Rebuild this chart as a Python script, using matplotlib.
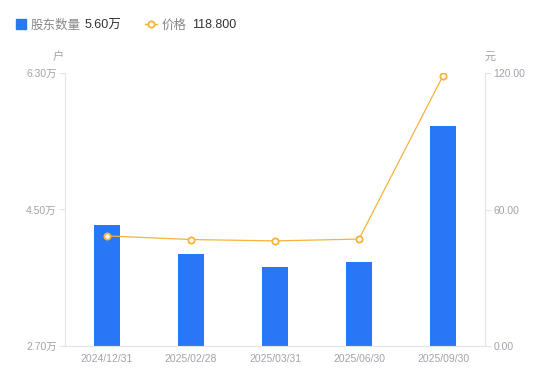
import matplotlib.pyplot as plt
from matplotlib.lines import Line2D
from matplotlib.patches import Rectangle
import numpy as np

plt.rcParams['font.family'] = ['Liberation Sans', 'Noto Sans CJK SC', 'DejaVu Sans']

dates = ['2024/12/31', '2025/02/28', '2025/03/31', '2025/06/30', '2025/09/30']
holders = [4.30, 3.91, 3.74, 3.81, 5.60]   # 万户
price = [48.4, 46.8, 46.2, 47.0, 118.8]    # 元
left_ticks = [2.70, 4.50, 6.30]
right_ticks = [0.0, 60.0, 120.0]

blue = '#2878f5'
orange = '#f7b23b'
axis_gray = '#e3e3e8'
label_gray = '#a1a3ad'

fig = plt.figure(figsize=(5.5, 3.81), dpi=100)
ax = fig.add_axes([65 / 550, 35 / 381, 420 / 550, 273 / 381])
ax2 = ax.twinx()

x = np.arange(len(dates))
ax.bar(x, holders, width=0.3, color=blue, bottom=0, zorder=2)
ax.set_xlim(-0.5, len(dates) - 0.5)
ax.set_ylim(left_ticks[0], left_ticks[-1])
ax.set_yticks(left_ticks)
ax.set_yticklabels(['%.2f万' % v for v in left_ticks])
ax.set_xticks(x)
ax.set_xticklabels(dates)

ax2.plot(x, price, color=orange, lw=0.9, marker='o', ms=4.5,
         mfc='white', mec=orange, mew=1.3, zorder=3)
ax2.set_ylim(right_ticks[0], right_ticks[-1])
ax2.set_yticks(right_ticks)
ax2.set_yticklabels(['%.2f' % v for v in right_ticks])

for a in (ax, ax2):
    for s in a.spines.values():
        s.set_visible(False)
    a.tick_params(colors=axis_gray, labelcolor=label_gray, labelsize=7.5, length=4, width=0.8)
ax.spines['left'].set_visible(True)
ax.spines['left'].set_color(axis_gray)
ax.spines['bottom'].set_visible(True)
ax.spines['bottom'].set_color(axis_gray)
ax2.spines['right'].set_visible(True)
ax2.spines['right'].set_color(axis_gray)
ax.tick_params(axis='x', length=0, pad=6)
ax.tick_params(axis='y', pad=2)
ax2.tick_params(axis='y', pad=2)

# unit labels
fig.text(58 / 550, 1 - 57 / 381, '户', fontsize=8, color=label_gray, ha='center', va='center')
fig.text(490 / 550, 1 - 57 / 381, '元', fontsize=8, color=label_gray, ha='center', va='center')

# legend
ly = 1 - 24 / 381
ty = 1 - 25.5 / 381
fig.patches.append(Rectangle((16 / 550, ly - 5 / 381), 10 / 550, 10 / 381,
                             transform=fig.transFigure, color=blue))
fig.text(31 / 550, ty, '股东数量', fontsize=9, color='#888888', va='center')
fig.text(85 / 550, ty, '5.60万', fontsize=9, color='#333333', va='center')
fig.lines.append(Line2D([145 / 550, 157 / 550], [ly, ly], transform=fig.transFigure,
                        color=orange, lw=1))
fig.lines.append(Line2D([151 / 550], [ly], transform=fig.transFigure, color=orange,
                        marker='o', ms=4.5, mfc='white', mec=orange, mew=1.3))
fig.text(162 / 550, ty, '价格', fontsize=9, color='#888888', va='center')
fig.text(192 / 550, ty, '118.800', fontsize=9, color='#333333', va='center')

fig.savefig('out.png')
